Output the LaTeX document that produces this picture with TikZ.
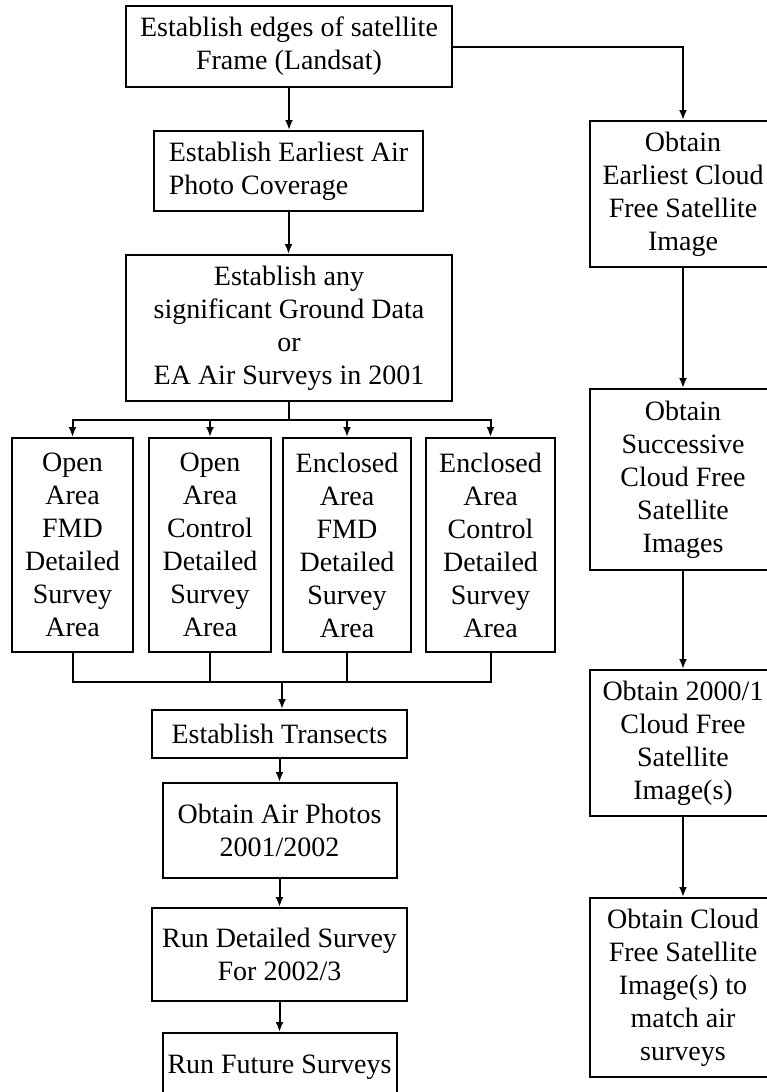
\documentclass[tikz,border=0pt]{standalone}
\usepackage{fontspec}
\setmainfont{Liberation Serif}
\usetikzlibrary{arrows.meta,backgrounds,positioning}
\pgfdeclarelayer{edgelayer}
\pgfdeclarelayer{nodelayer}
\pgfsetlayers{background,edgelayer,nodelayer,main}
\tikzstyle{none}=[inner sep=0mm]
\tikzstyle{box}=[draw=black,fill=white,line width=1pt,inner sep=0pt,align=center,font=\fontsize{14}{16.5}\selectfont]
\tikzstyle{lbox}=[box,align=left]
\tikzstyle{survey}=[box,minimum height=107pt]
\tikzstyle{side}=[box,minimum width=93pt]
\tikzstyle{plain}=[line width=1pt]
\tikzstyle{diredge}=[plain,-{Latex[length=5pt,width=4pt]}]

\begin{document}
\begin{tikzpicture}[x=0.5pt,y=-0.5pt]
	\useasboundingbox (0,0) rectangle (766,1092);
	\begin{pgfonlayer}{nodelayer}
		\node [style=box,minimum width=163pt,minimum height=40.5pt] (0) at (289, 46.5) {Establish edges of satellite\\Frame (Landsat)};
		\node [style=lbox,minimum width=134.5pt,minimum height=40pt] (1) at (288.5, 171) {Establish Earliest Air\\Photo Coverage};
		\node [style=box,minimum width=163pt,minimum height=73pt] (2) at (289, 328) {Establish any\\significant Ground Data\\or\\EA Air Surveys in 2001};
		\node [style=survey,minimum width=60.5pt] (3) at (72.5, 545) {Open\\Area\\FMD\\Detailed\\Survey\\Area};
		\node [style=survey,minimum width=61pt] (4) at (210, 545) {Open\\Area\\Control\\Detailed\\Survey\\Area};
		\node [style=survey,minimum width=64pt] (5) at (347, 545) {Enclosed\\Area\\FMD\\Detailed\\Survey\\Area};
		\node [style=survey,minimum width=64.5pt] (6) at (490.5, 545) {Enclosed\\Area\\Control\\Detailed\\Survey\\Area};
		\node [style=box,minimum width=127.5pt,minimum height=24pt] (7) at (279.5, 734) {Establish Transects};
		\node [style=box,minimum width=117pt,minimum height=47.5pt] (8) at (279.5, 830.5) {Obtain Air Photos\\2001/2002};
		\node [style=box,minimum width=127.5pt,minimum height=46.5pt] (9) at (279.5, 954.5) {Run Detailed Survey\\For 2002/3};
		\node [style=box,minimum width=117pt,minimum height=34pt] (10) at (279.5, 1067) {Run Future Surveys};
		\node [style=side,minimum height=73pt] (11) at (683, 194) {Obtain\\Earliest Cloud\\Free Satellite\\Image};
		\node [style=side,minimum height=90.5pt] (12) at (683, 479.5) {Obtain\\Successive\\Cloud Free\\Satellite\\Images};
		\node [style=side,minimum height=73pt] (13) at (683, 743) {Obtain 2000/1\\Cloud Free\\Satellite\\Image(s)};
		\node [style=side,minimum height=89.5pt] (14) at (683, 987.5) {Obtain Cloud\\Free Satellite\\Image(s) to\\match air\\surveys};
		\node [style=none] (15) at (289, 420) {};
		\node [style=none] (16) at (282, 682) {};
	\end{pgfonlayer}
	\begin{pgfonlayer}{edgelayer}
		\draw [style=diredge] (0.south) to (0.south |- 1.north);
		\draw [style=diredge] (0.east) -| (11.north);
		\draw [style=diredge] (1.south) to (1.south |- 2.north);
		\draw [style=plain] (2.south) to (15.center);
		\draw [style=diredge] (15.center) -| (3.north);
		\draw [style=diredge] (15.center) -| (4.north);
		\draw [style=diredge] (15.center) -| (5.north);
		\draw [style=diredge] (15.center) -| (6.north);
		\draw [style=plain] (3.south) |- (16.center);
		\draw [style=plain] (4.south) |- (16.center);
		\draw [style=plain] (5.south) |- (16.center);
		\draw [style=plain] (6.south) |- (16.center);
		\draw [style=diredge] (16.center) to (16.center |- 7.north);
		\draw [style=diredge] (7.south) to (8.north);
		\draw [style=diredge] (8.south) to (9.north);
		\draw [style=diredge] (9.south) to (10.north);
		\draw [style=diredge] (11.south) to (12.north);
		\draw [style=diredge] (12.south) to (13.north);
		\draw [style=diredge] (13.south) to (14.north);
	\end{pgfonlayer}
\end{tikzpicture}
\end{document}
